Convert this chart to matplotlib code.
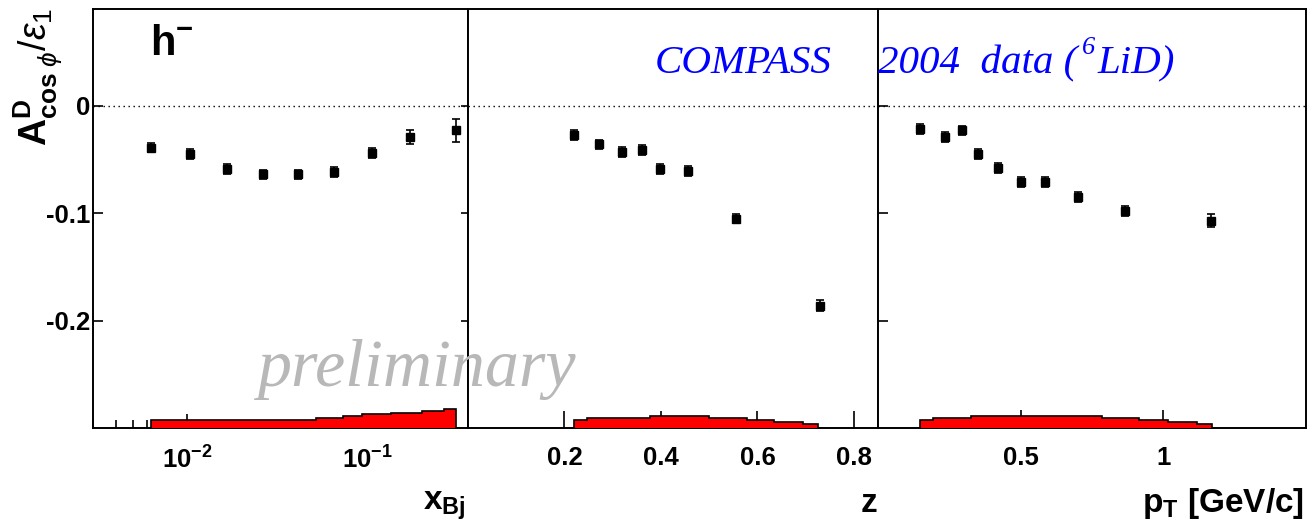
import matplotlib
matplotlib.use('Agg')
import matplotlib.pyplot as plt
from matplotlib.ticker import FixedLocator, FixedFormatter, NullLocator, NullFormatter

# ---------------- data ----------------
xbj = [0.0063, 0.0104, 0.0165, 0.0264, 0.041, 0.065, 0.106, 0.171, 0.308]
a_xbj = [-0.039, -0.045, -0.059, -0.064, -0.064, -0.062, -0.044, -0.029, -0.023]
e_xbj = [0.0045, 0.0045, 0.0045, 0.0045, 0.0045, 0.0045, 0.0045, 0.0065, 0.0105]

zval = [0.220, 0.272, 0.320, 0.360, 0.399, 0.456, 0.555, 0.729]
a_z = [-0.027, -0.036, -0.043, -0.041, -0.059, -0.061, -0.105, -0.186]
e_z = [0.0045, 0.0045, 0.0045, 0.0045, 0.0045, 0.0045, 0.0045, 0.005]

ptval = [0.147, 0.235, 0.293, 0.352, 0.420, 0.501, 0.586, 0.700, 0.867, 1.166]
a_pt = [-0.022, -0.029, -0.023, -0.045, -0.058, -0.071, -0.071, -0.085, -0.098, -0.107]
e_pt = [0.0045, 0.0045, 0.0045, 0.0045, 0.0045, 0.0045, 0.0045, 0.0045, 0.0045, 0.006]

# systematic bands (histogram edges and heights above baseline)
xbj_edges = [0.0063, 0.052, 0.073, 0.0935, 0.1355, 0.199, 0.2655, 0.308]
xbj_sys = [0.0071, 0.0090, 0.0112, 0.0127, 0.0143, 0.0161, 0.0177]
z_edges = [0.22, 0.246, 0.377, 0.500, 0.579, 0.634, 0.695, 0.725]
z_sys = [0.0073, 0.0092, 0.0111, 0.0092, 0.0073, 0.0054, 0.0038]
pt_edges = [0.147, 0.194, 0.325, 0.784, 0.916, 1.017, 1.117, 1.170]
pt_sys = [0.0073, 0.0092, 0.0111, 0.0092, 0.0070, 0.0054, 0.0038]

y_ticks = [0.0, -0.1, -0.2]
y_ticklabels = ['0', '-0.1', '-0.2']
xbj_ticks = [0.01, 0.1]
xbj_ticklabels = [r'$\mathbf{10^{-2}}$', r'$\mathbf{10^{-1}}$']
z_ticks = [0.2, 0.4, 0.6, 0.8]
z_ticklabels = ['0.2', '0.4', '0.6', '0.8']
pt_ticks = [0.5, 1.0]
pt_ticklabels = ['0.5', '1']

YMIN, YMAX = -0.3, 0.09
BASE = -0.3

# ---------------- style ----------------
plt.rcParams['font.family'] = ['Liberation Sans', 'DejaVu Sans']
plt.rcParams['mathtext.fontset'] = 'custom'
plt.rcParams['mathtext.rm'] = 'Liberation Sans'
plt.rcParams['mathtext.it'] = 'Liberation Sans:italic'
plt.rcParams['mathtext.bf'] = 'Liberation Sans:bold'
plt.rcParams['axes.unicode_minus'] = False

W, H = 1315, 531
fig = plt.figure(figsize=(W / 100, H / 100), dpi=100)


def px_axes(x0, x1, y0=9, y1=428):
    return fig.add_axes([x0 / W, 1 - y1 / H, (x1 - x0) / W, (y1 - y0) / H])


ax1 = px_axes(93, 468)
ax2 = px_axes(468, 878)
ax3 = px_axes(878, 1306)

TICKFS = 18.5
for ax in (ax1, ax2, ax3):
    ax.set_ylim(YMIN, YMAX)
    for s in ax.spines.values():
        s.set_linewidth(1.4)
    ax.axhline(0, color='black', lw=1.0, ls=(0, (1, 2.6)), zorder=1)
    ax.yaxis.set_major_locator(FixedLocator(y_ticks))
    ax.yaxis.set_minor_locator(NullLocator())
    ax.tick_params(axis='x', which='both', top=False, direction='in', pad=13,
                   labelsize=TICKFS)
    ax.tick_params(axis='y', which='both', right=False)

# left panel (log x)
ax1.set_xscale('log')
ax1.set_xlim(0.003, 0.36)
ax1.xaxis.set_major_locator(FixedLocator(xbj_ticks))
ax1.xaxis.set_major_formatter(FixedFormatter(xbj_ticklabels))
minors = [k * 10.0 ** d for d in (-3, -2, -1) for k in range(2, 10)]
ax1.xaxis.set_minor_locator(FixedLocator(minors))
ax1.xaxis.set_minor_formatter(NullFormatter())
ax1.tick_params(axis='x', which='major', length=10, width=1.2)
ax1.tick_params(axis='x', which='minor', length=6, width=1.2)
ax1.yaxis.set_major_formatter(FixedFormatter(y_ticklabels))
ax1.tick_params(axis='y', direction='in', length=7, width=1.2, pad=2,
                labelsize=TICKFS)

# middle
ax2.set_xlim(0.0, 0.85)
ax2.xaxis.set_major_locator(FixedLocator(z_ticks))
ax2.xaxis.set_major_formatter(FixedFormatter(z_ticklabels))
ax2.xaxis.set_minor_locator(NullLocator())
ax2.tick_params(axis='x', which='major', length=12, width=1.2)
ax2.tick_params(axis='y', direction='out', length=5, width=1.2, labelleft=False)

# right
ax3.set_xlim(0.0, 1.5)
ax3.xaxis.set_major_locator(FixedLocator(pt_ticks))
ax3.xaxis.set_major_formatter(FixedFormatter(pt_ticklabels))
ax3.xaxis.set_minor_locator(NullLocator())
ax3.tick_params(axis='x', which='major', length=13, width=1.2)
ax3.tick_params(axis='y', direction='in', length=7, width=1.2, labelleft=False)

for ax in (ax1, ax2, ax3):
    for lab in ax.get_xticklabels() + ax.get_yticklabels():
        lab.set_fontweight('bold')

# data + bands
sets = [(ax1, xbj, a_xbj, e_xbj, xbj_edges, xbj_sys),
        (ax2, zval, a_z, e_z, z_edges, z_sys),
        (ax3, ptval, a_pt, e_pt, pt_edges, pt_sys)]
for ax, xv, yv, ev, edges, sysv in sets:
    heights = [BASE + s for s in sysv]
    ax.stairs(heights, edges, baseline=BASE, fill=True, color='#ff0000',
              zorder=3)
    ax.stairs(heights, edges, baseline=BASE, fill=False, color='black',
              lw=1.2, zorder=3.1)
    ax.errorbar(xv, yv, yerr=ev, fmt='s', color='black', ms=5.8, capsize=3,
                elinewidth=1.2, capthick=1.2, zorder=4)

# ---------------- texts ----------------
def fx(px):
    return px / W


def fy(py):
    return 1 - py / H


fig.text(fx(38), fy(8), r'$\mathbf{A}^{\mathbf{D}}_{\mathbf{cos}\ \phi}/\epsilon_{1}$',
         rotation=90, ha='center', va='top', fontsize=27)

fig.text(fx(466), fy(490), r'$\mathbf{x_{Bj}}$', ha='right', va='top', fontsize=24)
fig.text(fx(877), fy(512), r'$\mathbf{z}$', ha='right', va='baseline', fontsize=24)
fig.text(fx(1304), fy(512), r'$\mathbf{p_{T}}$ [GeV/c]', ha='right', va='baseline',
         fontsize=24, fontweight='bold')

fig.text(fx(150), fy(55), r'$\mathbf{h^{-}}$', ha='left', va='baseline', fontsize=30)

fig.text(fx(258), fy(386), 'preliminary', ha='left', va='baseline', fontsize=49,
         family='Liberation Serif', style='italic', color='#b8b8b8', zorder=10)

renderer = fig.canvas.get_renderer()
blue = '#0000ff'
serif = dict(family='Liberation Serif', style='italic', color=blue)
fig.text(fx(655), fy(73), 'COMPASS', ha='left', va='baseline', fontsize=29.5, **serif)
t1 = fig.text(fx(878), fy(73), '2004  data (', ha='left', va='baseline', fontsize=29.5,
              **serif)
bb1 = t1.get_window_extent(renderer)
t2 = fig.text((bb1.x1 + 5) / W, fy(54), '6', ha='left', va='baseline', fontsize=19,
              **serif)
bb2 = t2.get_window_extent(renderer)
fig.text((bb2.x1 + 2) / W, fy(73), 'LiD)', ha='left', va='baseline', fontsize=29.5,
         **serif)

fig.savefig('out.png', dpi=100)
